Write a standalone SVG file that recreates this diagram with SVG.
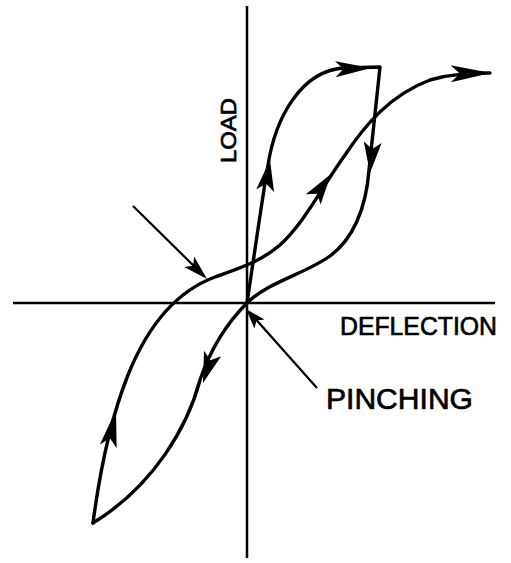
<svg xmlns="http://www.w3.org/2000/svg" xmlns:xlink="http://www.w3.org/1999/xlink" width="511" height="563" viewBox="0 0 511 563">
  <style>
    .axis{stroke:#000;stroke-width:2.5;fill:none}
    .curve{stroke:#000;stroke-width:3.4;fill:none;stroke-linejoin:round;stroke-linecap:round}
    .ptr{stroke:#000;stroke-width:2.2;fill:none}
    .lbl{font-family:"Liberation Sans",Arial,sans-serif;fill:#000;stroke:#000;stroke-width:0.7}
  </style>
  <defs>
    <path id="ah" d="M0,0 L-31,-9 L-24,0 L-31,9 Z" fill="#000"/>
  </defs>
  <rect width="511" height="563" fill="#fff"/>
  <g id="axes">
    <line class="axis" x1="247" y1="6" x2="247" y2="558"/>
    <line class="axis" x1="13" y1="303" x2="495" y2="303"/>
  </g>
  <g id="curves">
    <path class="curve" d="M247,303 C255,250 262,200 268,165 C275,120 300,70 345,68 L380,67 L369,170 C366,210 352,240 330,256 C305,274 268,282 247,303"/>
    <path class="curve" d="M247,303 C230,320 212,345 200,380 C188,425 155,485 93,523"/>
    <path class="curve" d="M93,523 C100,470 110,420 128,375 C150,320 180,290 215,277 C240,268 260,262 280,245 C305,222 320,190 345,155 C365,125 390,95 430,80 C455,73 475,73 490,73"/>
  </g>
  <g id="arrowheads">
    <use xlink:href="#ah" transform="translate(270,160) rotate(-81)"/>
    <use xlink:href="#ah" transform="translate(371,68) rotate(-2) scale(1.15,0.9)"/>
    <use xlink:href="#ah" transform="translate(491,73) rotate(-1) scale(1.3,0.95)"/>
    <use xlink:href="#ah" transform="translate(370,173) rotate(95)"/>
    <use xlink:href="#ah" transform="translate(331,174) rotate(-55)"/>
    <use xlink:href="#ah" transform="translate(116,410) rotate(-78) scale(1.2,0.95)"/>
    <use xlink:href="#ah" transform="translate(203,383) rotate(108)"/>
  </g>
  <g id="pointers">
    <line class="ptr" x1="133" y1="206" x2="200" y2="272"/>
    <use xlink:href="#ah" transform="translate(207,279) rotate(44) scale(0.8,0.8)"/>
    <line class="ptr" x1="317" y1="388" x2="252" y2="315"/>
    <use xlink:href="#ah" transform="translate(246,309) rotate(228) scale(0.65,0.75)"/>
  </g>
  <g id="labels">
    <text class="lbl" transform="translate(236,163) rotate(-90)" font-size="22" textLength="65" lengthAdjust="spacingAndGlyphs">LOAD</text>
    <text class="lbl" x="340" y="335" font-size="26" textLength="157" lengthAdjust="spacingAndGlyphs">DEFLECTION</text>
    <text class="lbl" x="326" y="409" font-size="30" textLength="147" lengthAdjust="spacingAndGlyphs">PINCHING</text>
  </g>
</svg>
